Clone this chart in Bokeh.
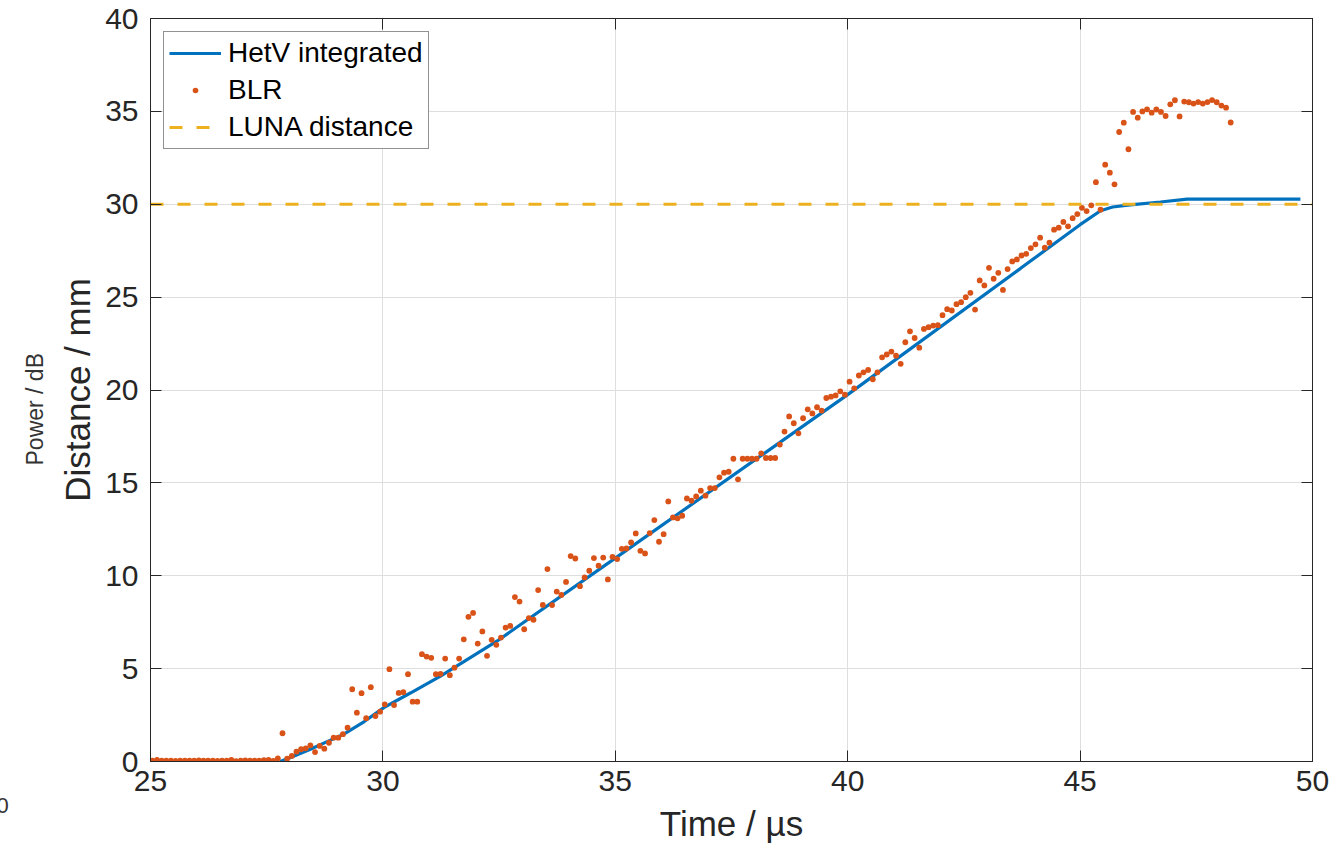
import math
from bokeh.plotting import figure
from bokeh.models import (Range1d, LinearAxis, FixedTicker, Label, Legend,
                          LegendItem, Title)
from bokeh.embed import file_html
from bokeh.resources import INLINE

# ---------------- data ----------------
x_ticks = [25, 30, 35, 40, 45, 50]
y_ticks = [0, 5, 10, 15, 20, 25, 30, 35, 40]

# BLR samples: start time and sample spacing (µs), distances (mm)
blr_t0 = 25.04
blr_dt = 0.1
blr_distance = [
    0.05, 0.08, 0.05, 0.04, 0.05, 0.03, 0.05, 0.04, 0.05, 0.05,
    0.06, 0.05, 0.04, 0.05, 0.03, 0.05, 0.05, 0.08, 0.02, 0.05,
    0.06, 0.05, 0.04, 0.05, 0.07, 0.08, 0.03, 0.17, 1.52, 0.15,
    0.30, 0.53, 0.66, 0.71, 0.87, 0.51, 0.84, 0.69, 1.01, 1.28,
    1.28, 1.47, 1.82, 3.89, 2.63, 3.68, 2.33, 4.00, 2.45, 2.68,
    3.08, 4.97, 3.04, 3.69, 3.73, 4.70, 3.22, 3.22, 5.78, 5.65,
    5.58, 4.70, 4.72, 5.54, 4.65, 5.05, 5.54, 6.58, 7.79, 8.00,
    6.35, 7.00, 5.69, 6.55, 6.28, 6.67, 7.21, 7.30, 8.85, 8.61,
    7.12, 7.72, 7.63, 9.23, 8.43, 10.36, 8.42, 9.15, 8.97, 9.67,
    11.06, 10.93, 9.44, 9.91, 10.27, 10.95, 10.54, 10.98, 9.80, 11.02,
    10.90, 11.45, 11.47, 11.79, 12.28, 11.34, 11.20, 12.30, 13.00, 11.83,
    12.24, 14.00, 13.14, 13.09, 13.23, 14.16, 14.04, 14.27, 14.58, 14.31,
    14.72, 14.72, 15.30, 15.55, 15.60, 16.30, 15.19, 16.30, 16.30, 16.30,
    16.30, 16.59, 16.34, 16.34, 16.34, 17.06, 17.76, 18.58, 18.21, 17.67,
    18.48, 18.96, 18.74, 19.07, 18.89, 19.57, 19.64, 19.71, 19.93, 19.75,
    20.45, 20.09, 20.78, 20.95, 21.08, 20.58, 20.95, 21.76, 21.91, 22.07,
    21.85, 21.41, 22.57, 23.16, 22.80, 22.28, 23.29, 23.38, 23.47, 23.49,
    24.03, 24.35, 24.28, 24.62, 24.73, 25.00, 25.23, 24.33, 25.90, 25.63,
    26.58, 25.99, 26.31, 25.39, 26.51, 26.92, 27.03, 27.24, 27.33, 27.64,
    27.84, 28.20, 27.66, 27.93, 28.63, 28.74, 29.05, 28.81, 29.25, 29.47,
    29.81, 29.63, 29.94, 31.19, 29.71, 32.13, 31.70, 31.07, 33.89, 34.39,
    32.96, 34.97, 34.66, 35.00, 35.11, 34.93, 35.10, 34.97, 34.75, 35.38,
    35.60, 34.73, 35.53, 35.49, 35.42, 35.50, 35.42, 35.50, 35.61, 35.49,
    35.31, 35.20, 34.40,
]
blr_time = [round(blr_t0 + blr_dt * i, 3) for i in range(len(blr_distance))]

hetv_time = [27.79, 28.0, 28.44, 28.8, 29.16, 29.6, 30.02, 30.6, 31.24,
             32.46, 35.0, 40.0, 43.72, 45.0, 45.44, 45.7, 46.08, 46.73,
             47.3, 49.74]
hetv_distance = [0.0, 0.2, 0.66, 1.07, 1.47, 2.15, 2.9, 3.7, 4.6,
                 6.49, 10.95, 19.75, 26.55, 28.9, 29.65, 29.85, 29.97,
                 30.12, 30.28, 30.28]

luna_time = [25, 50]
luna_distance = [30, 30]

# ---------------- styling ----------------
FONT = "Liberation Sans"
AX = "#262626"
BLUE = "#0072BD"
ORANGE = "#D95319"
YELLOW = "#EDB120"

p = figure(width=1332, height=859,
           x_range=Range1d(25, 50), y_range=Range1d(0, 40),
           output_backend="svg", toolbar_location=None,
           min_border_left=150, min_border_right=20,
           min_border_top=18, min_border_bottom=98)
p.background_fill_color = "white"
p.border_fill_color = "white"
p.outline_line_color = AX
p.outline_line_width = 1

for ax, ticks in ((p.xaxis[0], x_ticks), (p.yaxis[0], y_ticks)):
    ax.ticker = FixedTicker(ticks=ticks)
    ax.major_label_text_font = FONT
    ax.major_label_text_font_size = "30px"
    ax.major_label_text_color = AX
    ax.axis_label_text_font = FONT
    ax.axis_label_text_font_size = "35px"
    ax.axis_label_text_font_style = "normal"
    ax.axis_label_text_color = AX
    ax.axis_line_color = AX
    ax.major_tick_line_color = AX
    ax.major_tick_in = 11
    ax.major_tick_out = 0
    ax.minor_tick_line_color = None

p.xaxis.axis_label = "Time / µs"
p.yaxis.axis_label = "Distance / mm"
p.xaxis.major_label_standoff = 9
p.xaxis.axis_label_standoff = 10
p.yaxis.major_label_standoff = 12
p.yaxis.axis_label_standoff = 5

# box ticks on top and right (no labels)
for loc, ticks in (("above", x_ticks), ("right", y_ticks)):
    a = LinearAxis(ticker=FixedTicker(ticks=ticks),
                   major_label_text_color=None,
                   major_tick_in=11, major_tick_out=0,
                   minor_tick_line_color=None,
                   axis_line_color=AX, major_tick_line_color=AX,
                   major_label_standoff=0)
    p.add_layout(a, loc)

p.xgrid.ticker = FixedTicker(ticks=x_ticks)
p.ygrid.ticker = FixedTicker(ticks=y_ticks)
p.xgrid.grid_line_color = "#dedede"
p.ygrid.grid_line_color = "#dedede"

r_hetv = p.line(hetv_time, hetv_distance, line_color=BLUE, line_width=3.2)
r_blr = p.scatter(blr_time, blr_distance, size=5.8, fill_color=ORANGE,
                  line_color=None)
r_luna = p.line(luna_time, luna_distance, line_color=YELLOW, line_width=3.2,
                line_dash="13 14")

legend = Legend(items=[
    LegendItem(label="HetV integrated", renderers=[r_hetv]),
    LegendItem(label="BLR", renderers=[r_blr]),
    LegendItem(label="LUNA distance", renderers=[r_luna]),
], location="top_left")
legend.margin = 13
legend.padding = 5
legend.spacing = 5
legend.glyph_width = 52
legend.glyph_height = 14
legend.label_height = 30
legend.label_standoff = 7
legend.label_text_font = FONT
legend.label_text_font_size = "28px"
legend.label_text_color = "black"
legend.border_line_color = AX
legend.border_line_width = 1
legend.background_fill_color = "white"
legend.background_fill_alpha = 1
p.add_layout(legend)

# ghost labels of an underlying axis
p.add_layout(Title(text="Power / dB", align="left", offset=296,
                   text_font=FONT, text_font_size="23px",
                   text_font_style="normal", text_color="#333333",
                   standoff=15), "left")
p.add_layout(Label(x=-4, y=-44, x_units="screen", y_units="screen",
                   text="0", text_align="left", text_baseline="middle",
                   text_font=FONT, text_font_size="22px",
                   text_color="#333333"), "left")

open("out.html", "w").write(file_html(p, INLINE))
